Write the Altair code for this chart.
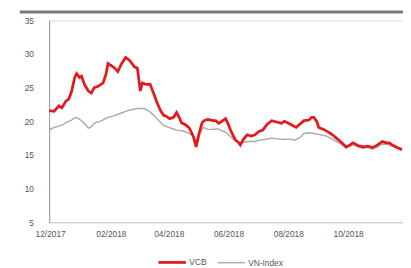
import altair as alt
import pandas as pd

# days since 2017-12-01 and closing values
vcb_days = [-1, 4, 9, 12, 16, 19, 22, 25, 27, 30, 32, 35, 39, 42, 45, 49, 54, 57, 59, 62, 66, 69,
            73, 77, 79, 82, 86, 89, 92, 94, 98, 102, 106, 109, 113, 116, 119, 122, 126, 129, 132,
            134, 138, 142, 146, 149, 152, 155, 157, 161, 166, 169, 172, 175, 179, 182, 184, 187,
            189, 192, 194, 197, 201, 205, 209, 213, 217, 221, 226, 231, 236, 239, 242, 246, 251,
            255, 259, 264, 267, 269, 272, 274, 279, 284, 288, 292, 297, 302, 306, 309, 314, 319,
            324, 329, 334, 339, 343, 346, 350, 354, 359]
vcb_vals = [21.6, 21.5, 22.3, 22.0, 23.0, 23.3, 24.5, 26.5, 27.1, 26.5, 26.7, 25.5, 24.5, 24.2,
            25.0, 25.2, 25.7, 27.0, 28.6, 28.3, 27.9, 27.4, 28.6, 29.5, 29.3, 28.9, 28.1, 27.9,
            24.5, 25.7, 25.5, 25.5, 24.0, 22.8, 21.5, 20.9, 20.7, 20.4, 20.6, 21.3, 20.5, 19.8,
            19.5, 19.0, 17.8, 16.2, 18.2, 19.8, 20.1, 20.3, 20.1, 20.1, 19.7, 20.0, 20.4, 19.5,
            18.7, 17.8, 17.2, 16.9, 16.5, 17.3, 18.0, 17.8, 18.0, 18.5, 18.7, 19.5, 20.1, 19.9,
            19.7, 20.0, 19.8, 19.5, 19.1, 19.6, 20.1, 20.2, 20.6, 20.6, 20.0, 19.1, 18.8, 18.4,
            18.0, 17.5, 16.9, 16.2, 16.5, 16.8, 16.4, 16.2, 16.3, 16.1, 16.5, 17.0, 16.8, 16.8,
            16.4, 16.1, 15.8]

vni_days = [-1, 4, 9, 13, 16, 21, 26, 29, 32, 36, 39, 42, 46, 51, 55, 59, 65, 72, 79, 85, 89,
            96, 101, 105, 109, 113, 116, 121, 125, 129, 135, 142, 146, 149, 152, 156, 161, 166,
            171, 175, 179, 182, 187, 192, 197, 201, 205, 209, 214, 219, 226, 232, 239, 244, 249,
            254, 259, 264, 269, 276, 282, 287, 292, 297, 302, 306, 309, 314, 319, 324, 329, 334,
            339, 344, 349, 354, 359]
vni_vals = [18.7, 19.1, 19.3, 19.5, 19.8, 20.1, 20.6, 20.4, 20.1, 19.5, 19.0, 19.2, 19.8, 20.0,
            20.3, 20.6, 20.8, 21.2, 21.6, 21.8, 21.9, 21.9, 21.5, 21.0, 20.4, 19.8, 19.4, 19.1,
            18.9, 18.7, 18.6, 18.2, 17.8, 17.2, 18.0, 19.1, 18.8, 18.8, 18.9, 18.6, 18.4, 18.0,
            17.3, 16.8, 16.9, 17.0, 17.0, 17.0, 17.2, 17.3, 17.5, 17.4, 17.3, 17.4, 17.2, 17.5,
            18.2, 18.3, 18.2, 18.0, 17.8, 17.4, 17.0, 16.6, 16.0, 16.3, 16.5, 16.2, 16.0, 16.1,
            15.9, 16.2, 16.6, 16.6, 16.3, 16.0, 15.6]

series_names = ["VCB", "VN-Index"]
series_colors = ["#e3191c", "#a9a9a9"]
series_widths = [2.8, 1.4]
y_ticks = [5, 10, 15, 20, 25, 30, 35]

start = pd.Timestamp("2017-12-01")
vcb = pd.DataFrame({"date": start + pd.to_timedelta(vcb_days, unit="D"), "value": vcb_vals,
                    "series": "VCB"})
vni = pd.DataFrame({"date": start + pd.to_timedelta(vni_days, unit="D"), "value": vni_vals,
                    "series": "VN-Index"})

font = "Liberation Sans"

x_enc = alt.X("date:T", title=None,
              scale=alt.Scale(domain=[alt.DateTime(year=2017, month=11, date=30),
                                      alt.DateTime(year=2018, month=11, date=26)]),
              axis=alt.Axis(format="%m/%Y", grid=False, ticks=False, domainColor="#c8c8c8",
                            domainWidth=1, labelColor="#555", labelFontSize=8.5, labelFont=font,
                            labelPadding=7, labelFlush=False, labelOverlap=False,
                            values=[alt.DateTime(year=2017, month=12, date=1),
                                    alt.DateTime(year=2018, month=2, date=1),
                                    alt.DateTime(year=2018, month=4, date=1),
                                    alt.DateTime(year=2018, month=6, date=1),
                                    alt.DateTime(year=2018, month=8, date=1),
                                    alt.DateTime(year=2018, month=10, date=1)]))
y_enc = alt.Y("value:Q", title=None,
              scale=alt.Scale(domain=[5, 35], nice=False, zero=False),
              axis=alt.Axis(values=y_ticks, grid=False, ticks=False, domainColor="#9a9a9a",
                            labelColor="#555", labelFontSize=8.5, labelFont=font, labelPadding=16))
color_enc = alt.Color("series:N", title=None,
                      scale=alt.Scale(domain=series_names, range=series_colors),
                      legend=alt.Legend(orient="none", legendX=110, legendY=231,
                                        direction="horizontal", symbolType="stroke",
                                        symbolSize=784, labelFontSize=8.5, labelFont=font,
                                        labelColor="#555", columnPadding=8, labelOffset=2))
width_enc = alt.StrokeWidth("series:N", title=None,
                            scale=alt.Scale(domain=series_names, range=series_widths),
                            legend=alt.Legend(orient="none", legendX=110, legendY=231,
                                              direction="horizontal", symbolType="stroke"))

gray = alt.Chart(vni).mark_line().encode(x=x_enc, y=y_enc, color=color_enc, strokeWidth=width_enc)
red = alt.Chart(vcb).mark_line().encode(x=x_enc, y=y_enc, color=color_enc, strokeWidth=width_enc)

bar = alt.Chart(pd.DataFrame({"a": [0]})).mark_rule(color="#7a7a7a", strokeWidth=3).encode(
    x=alt.value(-30), x2=alt.value(361), y=alt.value(-8.5))

chart = alt.layer(bar, gray, red).properties(
    width=361, height=206,
    autosize=alt.AutoSizeParams(type="none"),
    padding={"left": 42, "top": 10, "right": 0, "bottom": 44},
).configure_view(stroke=None).configure(background="white")

chart.save("out.html", embed_options={"renderer": "svg", "actions": False})
